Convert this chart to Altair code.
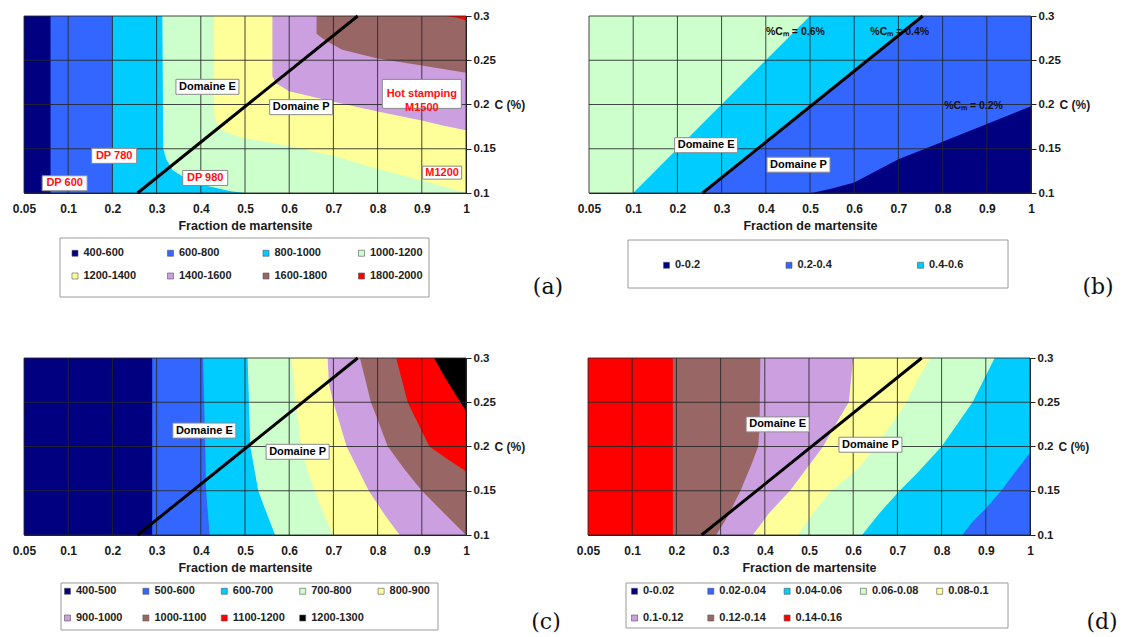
import altair as alt
import pandas as pd

FONT = "Liberation Sans"
W, H = 442, 177

# ---------------- shared axes / divider ----------------
X_TICKS = [0.05, 0.1, 0.2, 0.3, 0.4, 0.5, 0.6, 0.7, 0.8, 0.9, 1.0]
Y_TICKS = [0.1, 0.15, 0.2, 0.25, 0.3]
X_TITLE = "Fraction de martensite"
Y_TITLE = "C (%)"
SPLIT_X = [0.257, 0.755]
SPLIT_Y = [0.1, 0.3]

NAVY, BLUE, CYAN, LGREEN = "#000080", "#3366FF", "#00CCFF", "#CCFFCC"
YELLOW, LAVENDER, BROWN, RED, BLACK = "#FFFF99", "#CC9FE0", "#996666", "#FF0000", "#000000"

# ---------------- (a) ----------------
A_BANDS = ["400-600", "600-800", "800-1000", "1000-1200",
           "1200-1400", "1400-1600", "1600-1800", "1800-2000"]
A_COLORS = [NAVY, BLUE, CYAN, LGREEN, YELLOW, LAVENDER, BROWN, RED]
A_EDGE_X = [
    [0.05, 0.05],
    [0.08, 0.08],
    [0.2, 0.2],
    [0.5, 0.468, 0.415, 0.37, 0.336, 0.322, 0.315, 0.313],
    [1.0, 0.9, 0.8, 0.7, 0.6, 0.5, 0.47, 0.445, 0.435, 0.43, 0.43],
    [1.0, 0.95, 0.9, 0.8, 0.7, 0.6, 0.57, 0.562, 0.562],
    [1.0, 0.9, 0.8, 0.72, 0.694, 0.675, 0.662, 0.662],
    [1.0, 0.98, 0.955],
]
A_EDGE_Y = [
    [0.1, 0.3],
    [0.1, 0.3],
    [0.1, 0.3],
    [0.1, 0.102, 0.108, 0.115, 0.126, 0.138, 0.15, 0.3],
    [0.1, 0.114, 0.127, 0.142, 0.153, 0.162, 0.166, 0.172, 0.18, 0.19, 0.3],
    [0.171, 0.176, 0.182, 0.192, 0.203, 0.215, 0.224, 0.232, 0.3],
    [0.236, 0.244, 0.252, 0.262, 0.269, 0.275, 0.28, 0.3],
    [0.295, 0.298, 0.3],
]
A_DRAW = [0, 1, 2, 3, 4, 5, 6, 7]
A_DOM_TEXT = ["Domaine E", "Domaine P"]
A_DOM_X = [0.415, 0.627]
A_DOM_Y = [0.22, 0.197]
A_DP_TEXT = ["DP 600", "DP 780", "DP 980"]
A_DP_X = [0.096, 0.204, 0.41]
A_DP_Y = [0.111, 0.142, 0.117]
A_M_TEXT = ["M1200"]
A_M_X = [0.946]
A_M_Y = [0.123]
A_HOT_TEXT = ["Hot stamping\nM1500"]
A_HOT_X = [0.9]
A_HOT_Y = [0.212]

# ---------------- (b) ----------------
B_BANDS = ["0-0.2", "0.2-0.4", "0.4-0.6", "0.6-0.8"]
B_LEGEND = ["0-0.2", "0.2-0.4", "0.4-0.6"]
B_COLORS = [NAVY, BLUE, CYAN, LGREEN]
B_EDGE_X = [
    [0.504, 0.55, 0.6, 0.7, 0.8, 0.9, 1.0],
    [0.257, 0.755],
    [0.1, 0.5],
    [0.05, 0.05],
]
B_EDGE_Y = [
    [0.1, 0.105, 0.112, 0.138, 0.158, 0.178, 0.198],
    [0.1, 0.3],
    [0.1, 0.3],
    [0.1, 0.3],
]
B_DRAW = [3, 2, 1, 0]
B_DOM_TEXT = ["Domaine E", "Domaine P"]
B_DOM_X = [0.265, 0.474]
B_DOM_Y = [0.154, 0.132]
B_CM_TEXT = ["%C\u2098 = 0.6%", "%C\u2098 = 0.4%", "%C\u2098 = 0.2%"]
B_CM_X = [0.467, 0.703, 0.87]
B_CM_Y = [0.282, 0.282, 0.198]

# ---------------- (c) ----------------
C_BANDS = ["400-500", "500-600", "600-700", "700-800", "800-900",
           "900-1000", "1000-1100", "1100-1200", "1200-1300"]
C_COLORS = [NAVY, BLUE, CYAN, LGREEN, YELLOW, LAVENDER, BROWN, RED, BLACK]
C_EDGE_X = [
    [0.05, 0.05],
    [0.29, 0.29],
    [0.42, 0.412, 0.41, 0.405],
    [0.568, 0.545, 0.53, 0.512, 0.506],
    [0.698, 0.69, 0.665, 0.64, 0.627, 0.615, 0.605],
    [0.85, 0.82, 0.78, 0.73, 0.7, 0.69, 0.687],
    [1.0, 0.95, 0.9, 0.86, 0.823, 0.785, 0.76],
    [1.0, 0.96, 0.917, 0.868, 0.842],
    [1.0, 0.975, 0.95, 0.928],
]
C_EDGE_Y = [
    [0.1, 0.3],
    [0.1, 0.3],
    [0.1, 0.15, 0.2, 0.3],
    [0.1, 0.13, 0.15, 0.2, 0.3],
    [0.1, 0.11, 0.14, 0.175, 0.2, 0.25, 0.3],
    [0.1, 0.12, 0.15, 0.2, 0.25, 0.27, 0.3],
    [0.1, 0.125, 0.15, 0.175, 0.2, 0.25, 0.3],
    [0.172, 0.185, 0.2, 0.25, 0.3],
    [0.24, 0.26, 0.28, 0.3],
]
C_DRAW = [0, 1, 2, 3, 4, 5, 6, 7, 8]
C_DOM_TEXT = ["Domaine E", "Domaine P"]
C_DOM_X = [0.408, 0.619]
C_DOM_Y = [0.218, 0.194]

# ---------------- (d) ----------------
D_BANDS = ["0-0.02", "0.02-0.04", "0.04-0.06", "0.06-0.08",
           "0.08-0.1", "0.1-0.12", "0.12-0.14", "0.14-0.16"]
D_COLORS = [NAVY, BLUE, CYAN, LGREEN, YELLOW, LAVENDER, BROWN, RED]
D_EDGE_X = [
    [],
    [0.847, 0.87, 0.9, 0.935, 0.965, 1.0],
    [0.62, 0.66, 0.705, 0.745, 0.8, 0.835, 0.87, 0.92],
    [0.475, 0.51, 0.55, 0.6, 0.62, 0.65, 0.68, 0.72, 0.745, 0.775],
    [0.373, 0.41, 0.457, 0.487, 0.532, 0.56, 0.59, 0.6],
    [0.29, 0.315, 0.345, 0.37, 0.385, 0.388, 0.39],
    [0.192, 0.192],
    [0.05, 0.05],
]
D_EDGE_Y = [
    [],
    [0.1, 0.115, 0.13, 0.15, 0.17, 0.193],
    [0.1, 0.125, 0.15, 0.17, 0.2, 0.225, 0.25, 0.3],
    [0.1, 0.125, 0.15, 0.17, 0.18, 0.2, 0.22, 0.25, 0.275, 0.3],
    [0.1, 0.125, 0.15, 0.17, 0.2, 0.225, 0.25, 0.3],
    [0.1, 0.12, 0.15, 0.18, 0.2, 0.22, 0.3],
    [0.1, 0.3],
    [0.1, 0.3],
]
D_DRAW = [7, 6, 5, 4, 3, 2, 1]
D_DOM_TEXT = ["Domaine E", "Domaine P"]
D_DOM_X = [0.429, 0.639]
D_DOM_Y = [0.225, 0.202]

# ---------------- scales & axes ----------------
XS = alt.Scale(domain=[0.05, 0.1, 1.0], range=[0, W / 10, W], nice=False, zero=False)
YS = alt.Scale(domain=[0.1, 0.3], nice=False, zero=False)

X_AXIS = alt.Axis(values=X_TICKS, format="~g", grid=False, ticks=False, domain=True,
                  domainColor="#222", labelFont=FONT, labelFontSize=12, labelFontWeight="bold",
                  labelColor="#1a1a1a", labelPadding=10, labelFlush=False, labelOverlap=False,
                  title=X_TITLE, titleFont=FONT, titleFontSize=12.5, titleFontWeight="bold",
                  titleColor="#1a1a1a", titlePadding=5)
Y_AXIS = alt.Axis(orient="right", values=Y_TICKS, format="~g", grid=False, ticks=True,
                  tickSize=5, tickColor="#222", domain=True, domainColor="#222",
                  labelFont=FONT, labelFontSize=11.5, labelFontWeight="bold",
                  labelColor="#1a1a1a", labelPadding=2, labelFlush=False, labelOverlap=False,
                  title=Y_TITLE, titleFont=FONT, titleFontSize=12, titleFontWeight="bold",
                  titleColor="#1a1a1a", titleAngle=0, titleAlign="left",
                  titleBaseline="middle", titleX=28, titleY=H / 2)


def xenc(field, **kw):
    return alt.X(field, type="quantitative", scale=XS, axis=X_AXIS, **kw)


def yenc(field):
    return alt.Y(field, type="quantitative", scale=YS, axis=Y_AXIS)


def make_legend(x, y, columns, col_pad, row_pad, align, values=None):
    kw = dict(orient="none", legendX=x, legendY=y, direction="horizontal", columns=columns,
              title=None, symbolType="square", symbolSize=36, symbolStrokeColor="#555555",
              symbolStrokeWidth=0.6, labelFont=FONT, labelFontSize=11, labelFontWeight="bold",
              labelColor="#222222", labelOffset=3, columnPadding=col_pad, rowPadding=row_pad,
              gridAlign=align, padding=0)
    if values is not None:
        kw["values"] = values
    return alt.Legend(**kw)


def area_layers(bands, colors, edge_x, edge_y, draw, legend):
    scale = alt.Scale(domain=bands, range=colors)
    out = []
    for i in draw:
        df = pd.DataFrame({"band": bands[i], "x": edge_x[i], "y": edge_y[i],
                           "xr": X_TICKS[-1]})
        out.append(
            alt.Chart(df).mark_area(orient="horizontal", interpolate="linear").encode(
                x=xenc("x", stack=False),
                x2="xr:Q",
                y=yenc("y"),
                color=alt.Color("band:N", scale=scale, legend=legend),
            )
        )
    return out


def grid_layers():
    v = alt.Chart(pd.DataFrame({"v": X_TICKS})).mark_rule(
        color="#262626", strokeWidth=1, opacity=0.85).encode(x=xenc("v"))
    h = alt.Chart(pd.DataFrame({"v": Y_TICKS})).mark_rule(
        color="#262626", strokeWidth=1, opacity=0.85).encode(y=yenc("v"))
    return [v, h]


def split_line():
    return alt.Chart(pd.DataFrame({"x": SPLIT_X, "y": SPLIT_Y})).mark_line(
        color="black", strokeWidth=3).encode(x=xenc("x"), y=yenc("y"))


def boxed(texts, xs, ys, w, h, color, size=11):
    df = pd.DataFrame({"t": texts, "x": xs, "y": ys})
    r = h / w
    shape = f"M-1,{-r:.4f}L1,{-r:.4f}L1,{r:.4f}L-1,{r:.4f}Z"
    box = alt.Chart(df).mark_point(shape=shape, size=w * w, filled=True, fill="white",
                                   stroke="#8a8a8a", strokeWidth=1, opacity=1).encode(
        x=xenc("x"), y=yenc("y"))
    txt = alt.Chart(df).mark_text(font=FONT, fontSize=size, fontWeight="bold", color=color,
                                  lineBreak="\n", lineHeight=14).encode(
        x=xenc("x"), y=yenc("y"), text="t:N")
    return [box, txt]


def plain_text(texts, xs, ys, color, size=10.5):
    df = pd.DataFrame({"t": texts, "x": xs, "y": ys})
    return alt.Chart(df).mark_text(font=FONT, fontSize=size, fontWeight="bold",
                                   color=color).encode(x=xenc("x"), y=yenc("y"), text="t:N")


def frame(x0, x1, y0, y1):
    return alt.Chart(pd.DataFrame({"k": [0]})).mark_rect(
        fill="white", stroke="#9a9a9a", strokeWidth=1).encode(
        x=alt.value(x0), x2=alt.value(x1), y=alt.value(y0), y2=alt.value(y1))


def letter(t, x, y):
    return alt.Chart(pd.DataFrame({"t": [t]})).mark_text(
        font="DejaVu Serif", fontSize=22, color="#111111", align="center",
        baseline="middle").encode(x=alt.value(x), y=alt.value(y), text="t:N")


# ---------------- panels ----------------
leg_a = make_legend(45.5, 231.5, 4, 28.5, 11, "all")
panel_a = alt.layer(
    *area_layers(A_BANDS, A_COLORS, A_EDGE_X, A_EDGE_Y, A_DRAW, leg_a),
    *grid_layers(),
    split_line(),
    *boxed(A_DOM_TEXT, A_DOM_X, A_DOM_Y, 63, 15, "black"),
    *boxed(A_DP_TEXT, A_DP_X, A_DP_Y, 45, 15, "#FF1010"),
    *boxed(A_M_TEXT, A_M_X, A_M_Y, 39, 13, "#FF1010"),
    *boxed(A_HOT_TEXT, A_HOT_X, A_HOT_Y, 79, 29, "#FF1010"),
    frame(36, 405, 222, 281),
    letter("(a)", 524, 271),
).properties(width=W, height=H)

leg_b = make_legend(72, 243.5, 3, 82.5, 11, "each", values=B_LEGEND)
panel_b = alt.layer(
    *area_layers(B_BANDS, B_COLORS, B_EDGE_X, B_EDGE_Y, B_DRAW, leg_b),
    *grid_layers(),
    split_line(),
    plain_text(B_CM_TEXT, B_CM_X, B_CM_Y, "#111111"),
    *boxed(B_DOM_TEXT, B_DOM_X, B_DOM_Y, 63, 15, "black"),
    frame(39, 419, 224, 272),
    letter("(b)", 509, 271),
).properties(width=W, height=H)

leg_c = make_legend(38, 227.5, 5, 11.4, 15, "all")
panel_c = alt.layer(
    *area_layers(C_BANDS, C_COLORS, C_EDGE_X, C_EDGE_Y, C_DRAW, leg_c),
    *grid_layers(),
    split_line(),
    *boxed(C_DOM_TEXT, C_DOM_X, C_DOM_Y, 63, 15, "black"),
    frame(37, 414, 225, 272),
    letter("(c)", 522, 264),
).properties(width=W, height=H)

leg_d = make_legend(41, 227.5, 5, 15.3, 15, "all")
panel_d = alt.layer(
    *area_layers(D_BANDS, D_COLORS, D_EDGE_X, D_EDGE_Y, D_DRAW, leg_d),
    *grid_layers(),
    split_line(),
    *boxed(D_DOM_TEXT, D_DOM_X, D_DOM_Y, 63, 15, "black"),
    frame(38, 420, 225, 270),
    letter("(d)", 514, 264),
).properties(width=W, height=H)

row1 = alt.hconcat(panel_a, panel_b, spacing=12).resolve_scale(color="independent")
row2 = alt.hconcat(panel_c, panel_d, spacing=13).resolve_scale(color="independent")

chart = (
    alt.vconcat(row1, row2, spacing=52)
    .resolve_scale(color="independent")
    .properties(padding={"left": 3, "top": 1, "right": 5, "bottom": 2})
    .configure(font=FONT)
    .configure_view(stroke="#666666", strokeWidth=1)
)

chart.save("out.html", embed_options={"renderer": "svg", "actions": False})
